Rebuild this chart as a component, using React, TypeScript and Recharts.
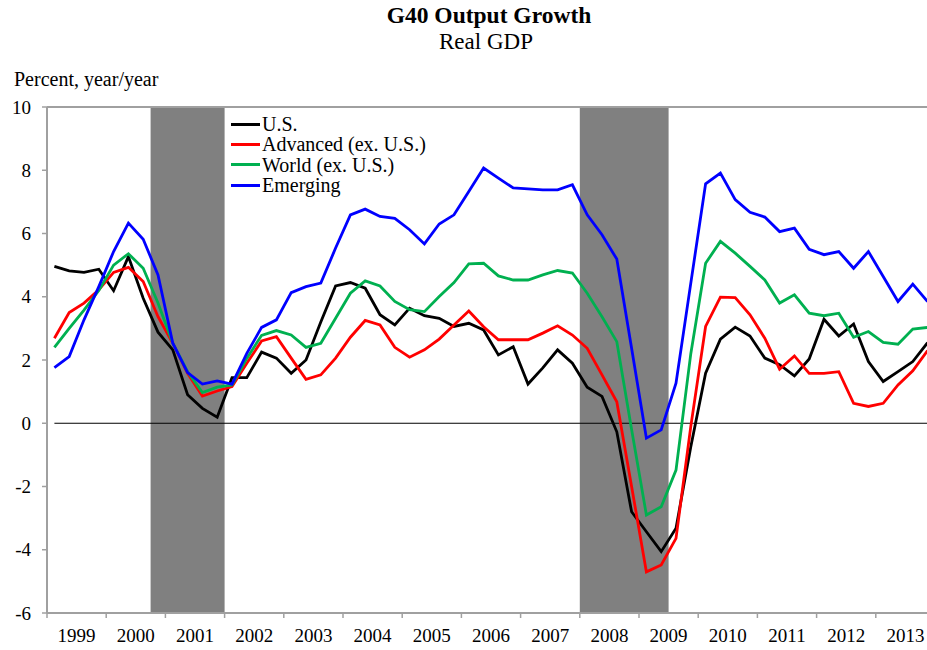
import React from 'react';
import { LineChart, Line, XAxis, YAxis, ReferenceArea, ReferenceLine, Legend } from 'recharts';

// Quarterly data, 1999Q1 .. 2013Q4 (60 quarters)
const years = ['1999', '2000', '2001', '2002', '2003', '2004', '2005', '2006', '2007', '2008', '2009', '2010', '2011', '2012', '2013'];
const quarters = ['Q1', 'Q2', 'Q3', 'Q4'];

const usData = [
  4.96, 4.82, 4.77, 4.87, 4.19, 5.27, 3.95, 2.88, 2.32, 0.9, 0.47, 0.19,
  1.44, 1.44, 2.25, 2.06, 1.58, 2.0, 3.2, 4.34, 4.45, 4.27, 3.43, 3.11,
  3.64, 3.4, 3.32, 3.06, 3.16, 2.95, 2.16, 2.42, 1.24, 1.75, 2.32, 1.9,
  1.14, 0.85, -0.27, -2.8, -3.43, -4.06, -3.32, -0.74, 1.58, 2.66, 3.04, 2.76,
  2.06, 1.85, 1.5, 2.03, 3.29, 2.76, 3.14, 1.95, 1.32, 1.63, 1.95, 2.55,
];
const advancedData = [
  2.69, 3.5, 3.8, 4.22, 4.77, 4.93, 4.48, 3.37, 2.53, 1.58, 0.86, 1.02,
  1.16, 1.9, 2.6, 2.74, 2.06, 1.39, 1.53, 2.06, 2.72, 3.25, 3.11, 2.4,
  2.09, 2.32, 2.66, 3.11, 3.55, 3.05, 2.64, 2.64, 2.64, 2.85, 3.08, 2.79,
  2.37, 1.53, 0.68, -2.0, -4.7, -4.48, -3.64, -0.1, 3.06, 3.99, 3.97, 3.43,
  2.69, 1.71, 2.13, 1.58, 1.58, 1.63, 0.63, 0.53, 0.63, 1.21, 1.66, 2.3,
];
const worldData = [
  2.4, 3.0, 3.58, 4.2, 5.0, 5.36, 4.9, 3.8, 2.53, 1.63, 0.97, 1.14,
  1.21, 2.05, 2.78, 2.93, 2.79, 2.4, 2.53, 3.32, 4.11, 4.5, 4.34, 3.85,
  3.59, 3.53, 4.01, 4.45, 5.04, 5.06, 4.66, 4.53, 4.53, 4.69, 4.83, 4.75,
  4.11, 3.37, 2.58, -0.2, -2.9, -2.64, -1.48, 2.2, 5.06, 5.75, 5.38, 4.96,
  4.53, 3.8, 4.06, 3.48, 3.4, 3.48, 2.72, 2.9, 2.56, 2.5, 2.98, 3.03,
];
const emergingData = [
  1.76, 2.11, 3.27, 4.32, 5.43, 6.33, 5.82, 4.69, 2.53, 1.6, 1.24, 1.34,
  1.24, 2.21, 3.03, 3.27, 4.13, 4.32, 4.43, 5.54, 6.59, 6.77, 6.54, 6.48,
  6.12, 5.67, 6.3, 6.59, 7.33, 8.07, 7.75, 7.44, 7.41, 7.38, 7.38, 7.54,
  6.59, 5.96, 5.19, 2.37, -0.47, -0.21, 1.27, 4.43, 7.57, 7.91, 7.07, 6.67,
  6.52, 6.06, 6.17, 5.5, 5.33, 5.43, 4.9, 5.43, 4.64, 3.85, 4.4, 3.85,
];

// Recession shading, in quarter-index units (start of band .. end of band)
const recessions = [
  { from: 7, to: 12 },
  { from: 36, to: 42 },
];

const yTicks = [-6, -4, -2, 0, 2, 4, 6, 8, 10];
const yearBoundaryTicks = years.map((_, i) => i * 4).concat([years.length * 4]);

const series = [
  { key: 'us', name: 'U.S.', color: '#000000', values: usData },
  { key: 'adv', name: 'Advanced (ex. U.S.)', color: '#ff0000', values: advancedData },
  { key: 'world', name: 'World (ex. U.S.)', color: '#00b050', values: worldData },
  { key: 'em', name: 'Emerging', color: '#0000ff', values: emergingData },
];

const rows = years.flatMap((yr, yi) =>
  quarters.map((q, qi) => {
    const idx = yi * 4 + qi;
    const row: Record<string, number | string> = { label: `${yr}${q}`, x: idx + 0.5 };
    series.forEach((s) => {
      row[s.key] = s.values[idx];
    });
    return row;
  })
);

const FONT = '"Liberation Serif", "Times New Roman", serif';
const CHART_W = 940;
const CHART_H = 650;
const MARGIN = { top: 107, right: 5, bottom: 0, left: 0 };
const Y_AXIS_W = 47;
const PLOT_W = CHART_W - MARGIN.left - MARGIN.right - Y_AXIS_W;
const YEAR_W = PLOT_W / years.length;
const AXIS_GRAY = '#a0a0a0';

const YearTick = (props: any) => {
  const { x, y, payload } = props;
  const idx = Math.round(payload.value / 4);
  if (idx >= years.length) return <g />;
  return (
    <text
      x={x + YEAR_W / 2}
      y={y}
      dy={22}
      textAnchor="middle"
      fontSize={19}
      fontFamily={FONT}
      fill="#000"
    >
      {years[idx]}
    </text>
  );
};

const LegendContent = () => (
  <div style={{ fontFamily: FONT, fontSize: 20, color: '#000' }}>
    {series.map((s) => (
      <div key={s.key} style={{ display: 'flex', alignItems: 'center', height: 20.3, lineHeight: '20.3px', whiteSpace: 'nowrap' }}>
        <span style={{ display: 'inline-block', width: 29, height: 3, background: s.color, marginRight: 2 }} />
        <span>{s.name}</span>
      </div>
    ))}
  </div>
);

export default function App() {
  return (
    <div style={{ position: 'absolute', left: 0, top: 0, width: 927, height: 650, overflow: 'hidden', background: '#fff' }}>
      <LineChart width={CHART_W} height={CHART_H} data={rows} margin={MARGIN}>
        {recessions.map((r, i) => (
          <ReferenceArea key={i} x1={r.from} x2={r.to} fill="#808080" fillOpacity={1} stroke="none" ifOverflow="visible" />
        ))}
        <XAxis
          type="number"
          dataKey="x"
          domain={[0, years.length * 4]}
          ticks={yearBoundaryTicks}
          interval={0}
          height={37}
          tickSize={5}
          tick={<YearTick />}
          axisLine={{ stroke: AXIS_GRAY, strokeWidth: 2 }}
          tickLine={{ stroke: AXIS_GRAY, strokeWidth: 1.5 }}
          allowDataOverflow
        />
        <YAxis
          type="number"
          domain={[-6, 10]}
          ticks={yTicks}
          interval={0}
          width={Y_AXIS_W}
          tickSize={5}
          tickMargin={11}
          tick={{ fill: '#000', fontSize: 19, fontFamily: FONT }}
          axisLine={{ stroke: AXIS_GRAY, strokeWidth: 2 }}
          tickLine={{ stroke: AXIS_GRAY, strokeWidth: 1.5 }}
          allowDataOverflow
        />
        <ReferenceLine y={10} stroke={AXIS_GRAY} strokeWidth={2} />
        <ReferenceLine
          segment={[{ x: rows[0].x as number, y: 0 }, { x: rows[rows.length - 1].x as number, y: 0 }]}
          stroke="#000"
          strokeWidth={1.2}
        />
        {series.map((s) => (
          <Line
            key={s.key}
            type="linear"
            dataKey={s.key}
            name={s.name}
            stroke={s.color}
            strokeWidth={2.8}
            dot={false}
            activeDot={false}
            isAnimationActive={false}
          />
        ))}
        <Legend
          layout="horizontal"
          verticalAlign="middle"
          align="center"
          wrapperStyle={{ left: 231, top: 114, width: 230, height: 82 }}
          content={<LegendContent />}
        />
      </LineChart>
      <svg width={927} height={110} style={{ position: 'absolute', left: 0, top: 0, pointerEvents: 'none' }}>
        <text x={489} y={22.5} textAnchor="middle" fontFamily={FONT} fontWeight="bold" fontSize={23.5} fill="#000">
          G40 Output Growth
        </text>
        <text x={486} y={49} textAnchor="middle" fontFamily={FONT} fontSize={23} fill="#000">
          Real GDP
        </text>
        <text x={14} y={86} fontFamily={FONT} fontSize={20} fill="#000">
          Percent, year/year
        </text>
      </svg>
    </div>
  );
}
